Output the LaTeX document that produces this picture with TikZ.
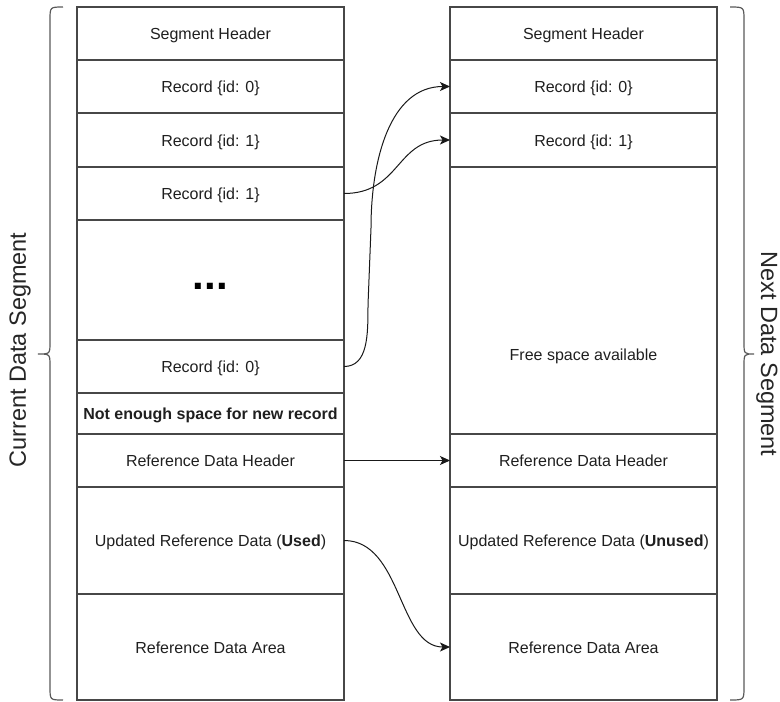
\documentclass[tikz,border=0pt]{standalone}
\usepackage{fontspec}
\setmainfont{Liberation Sans}
\usetikzlibrary{arrows.meta}
\begin{document}
\begin{tikzpicture}[x=1pt,y=1pt,
  cell/.style={draw=black!72, line width=1.3pt, rectangle, inner sep=0pt, outer sep=0pt,
    minimum width=267pt, font=\fontsize{16}{19}\selectfont, text=black!88, align=center,
    text height=13.5pt, text depth=1.4pt},
  lbl/.style={inner sep=0pt, font=\fontsize{16}{19}\selectfont, text=black!88},
  side/.style={inner sep=0pt, font=\fontsize{23.5}{28}\selectfont, text=black!85},
  brace/.style={draw=black!65, line width=1.2pt},
  conn/.style={draw=black!90, line width=1pt, -{Stealth[length=10pt,width=9pt,inset=2.5pt]}}]
\useasboundingbox (0,0) rectangle (780,-702);
% left column
\node[cell, minimum height=53pt] (l1) at (210.5,-33.5) {Segment Header};
\node[cell, minimum height=53pt] (l2) at (210.5,-86.5) {Record \{id: 0\}};
\node[cell, minimum height=54pt] (l3) at (210.5,-140) {Record \{id: 1\}};
\node[cell, minimum height=53pt] (l4) at (210.5,-193.5) {Record \{id: 1\}};
\node[cell, minimum height=120pt] (l5) at (210.5,-280) {};
\node[inner sep=0pt, font=\bfseries\fontsize{42}{48}\selectfont] (dots) at (210.5,-286) {...};
\node[cell, minimum height=53pt] (l6) at (210.5,-366.5) {Record \{id: 0\}};
\node[cell, minimum height=41pt, font=\bfseries\fontsize{16}{19}\selectfont] (l7) at (210.5,-413.5) {Not enough space for new record};
\node[cell, minimum height=53pt] (l8) at (210.5,-460.5) {Reference Data Header};
\node[cell, minimum height=107pt] (l9) at (210.5,-540.5) {Updated Reference Data (\textbf{Used})};
\node[cell, minimum height=106pt] (l10) at (210.5,-647) {Reference Data Area};
% right column
\node[cell, minimum height=53pt] (r1) at (583.5,-33.5) {Segment Header};
\node[cell, minimum height=53pt] (r2) at (583.5,-86.5) {Record \{id: 0\}};
\node[cell, minimum height=54pt] (r3) at (583.5,-140) {Record \{id: 1\}};
\node[cell, minimum height=267pt] (r4) at (583.5,-300.5) {};
\node[lbl, text height=13.5pt, text depth=1.4pt] (free) at (583.5,-354) {Free space available};
\node[cell, minimum height=53pt] (r5) at (583.5,-460.5) {Reference Data Header};
\node[cell, minimum height=107pt] (r6) at (583.5,-540.5) {Updated Reference Data (\textbf{Unused})};
\node[cell, minimum height=106pt] (r7) at (583.5,-647) {Reference Data Area};
% braces
\draw[brace] (63,-7) .. controls (50,-7) .. (50,-20) -- (50,-342)
  .. controls (50,-354) .. (38,-354) .. controls (50,-354) .. (50,-366)
  -- (50,-687) .. controls (50,-700) .. (63,-700);
\draw[brace] (730,-7) .. controls (744,-7) .. (744,-20) -- (744,-342)
  .. controls (744,-354) .. (754,-354) .. controls (744,-354) .. (744,-366)
  -- (744,-687) .. controls (744,-700) .. (730,-700);
\node[side, rotate=90] (curlbl) at (20,-350) {Current Data Segment};
\node[side, rotate=-90] (nextlbl) at (767,-354) {Next Data Segment};
% connectors
\coordinate (c1) at (368,-305);
\coordinate (c2) at (371,-228);
\draw[conn] (l6.east) .. controls (368,-366.5) and (368,-335) .. (c1) -- (c2)
  .. controls (371,-160) and (390,-86.5) .. (r2.west);
\draw[conn] (l4.east) .. controls (400,-193.5) and (396,-140) .. (r3.west);
\draw[conn] (l8.east) -- (r5.west);
\draw[conn] (l9.east) .. controls (402,-540.5) and (398,-647) .. (r7.west);
\end{tikzpicture}
\end{document}
